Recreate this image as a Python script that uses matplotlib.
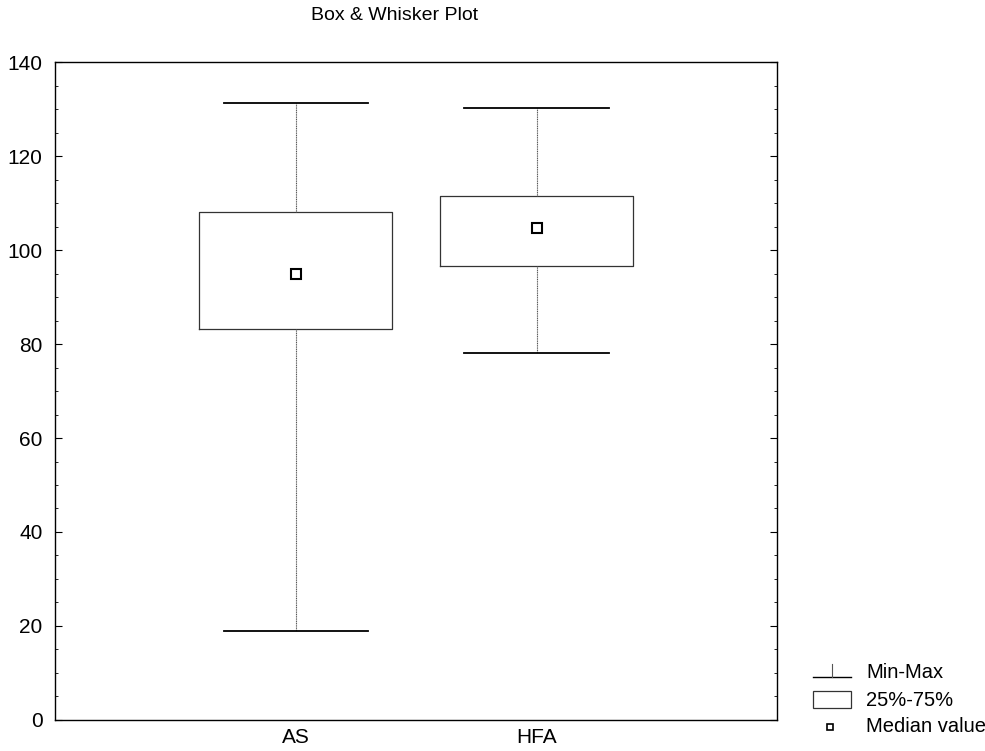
import matplotlib
matplotlib.use('Agg')
import matplotlib.pyplot as plt
from matplotlib.lines import Line2D
from matplotlib.patches import Rectangle
from matplotlib.ticker import MultipleLocator

plt.rcParams['font.family'] = ['Liberation Sans', 'DejaVu Sans']

# summary values per group
groups = ['AS', 'HFA']
mins = [19.0, 78.0]
q1s = [83.3, 96.5]
medians = [95.0, 104.7]
q3s = [108.1, 111.6]
maxs = [131.2, 130.3]

stats = []
for name, lo, q1, med, q3, hi in zip(groups, mins, q1s, medians, q3s, maxs):
    stats.append({'label': name, 'whislo': lo, 'q1': q1, 'med': med,
                  'q3': q3, 'whishi': hi, 'fliers': []})

fig = plt.figure(figsize=(9.85, 7.51), dpi=100)
ax = fig.add_axes([0.0558, 0.0413, 0.7335, 0.8761])

pos = [1, 2]
ax.bxp(stats, positions=pos, widths=0.8, capwidths=0.6, showfliers=False,
       boxprops=dict(color='#333333', linewidth=0.9),
       whiskerprops=dict(color='#555555', linewidth=0.8, linestyle=(0, (1, 0.6))),
       capprops=dict(color='black', linewidth=1.3),
       medianprops=dict(linewidth=0))
ax.plot(pos, medians, linestyle='none', marker='s', markersize=7,
        markerfacecolor='white', markeredgecolor='black', markeredgewidth=1.5)

ax.set_xlim(0, 3)
ax.set_ylim(0, 140)
ax.yaxis.set_major_locator(MultipleLocator(20))
ax.yaxis.set_minor_locator(MultipleLocator(5))
ax.tick_params(axis='y', which='both', direction='in', left=True, right=True,
               labelsize=15, pad=9)
ax.tick_params(axis='y', which='major', length=5, width=0.8)
ax.tick_params(axis='y', which='minor', length=2.5, width=0.6)
ax.tick_params(axis='x', length=0, labelsize=15, pad=6)
for sp in ax.spines.values():
    sp.set_linewidth(1.0)

fig.text(0.401, 0.979, 'Box & Whisker Plot', ha='center', va='center', fontsize=14)

# key in the lower right corner
tf = fig.transFigure
W, H = 985.0, 751.0
fig.add_artist(Line2D([813 / W, 851 / W], [1 - 677 / H, 1 - 677 / H], color='black',
                      linewidth=1.0, transform=tf))
fig.add_artist(Line2D([832 / W, 832 / W], [1 - 677 / H, 1 - 664 / H], color='#555555',
                      linewidth=0.8, transform=tf))
fig.add_artist(Rectangle((813 / W, 1 - 708 / H), 38 / W, 17 / H, fill=False,
                         edgecolor='#333333', linewidth=0.9, transform=tf))
fig.add_artist(Line2D([830 / W], [1 - 727 / H], linestyle='none', marker='s',
                      markersize=5, markerfacecolor='white', markeredgecolor='black',
                      markeredgewidth=1.2, transform=tf))
for ytxt, txt in [(672, 'Min-Max'), (701, '25%-75%'), (727, 'Median value')]:
    fig.text(866 / W, 1 - ytxt / H, txt, ha='left', va='center', fontsize=14.5)

fig.savefig('out.png', dpi=100)
